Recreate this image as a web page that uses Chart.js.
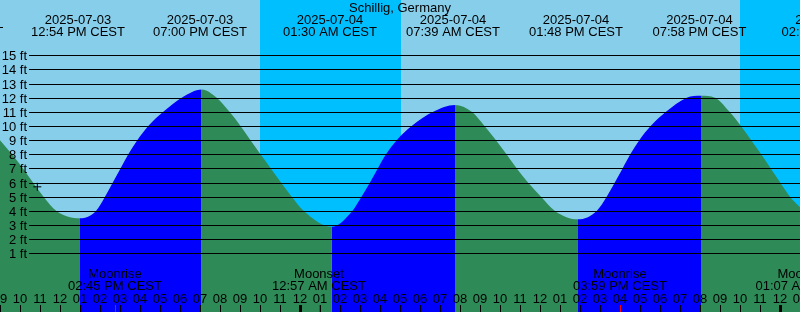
<!DOCTYPE html>
<html>
<head>
<meta charset="utf-8">
<script src="https://cdn.jsdelivr.net/npm/chart.js@4/dist/chart.umd.min.js"></script>
<style>
  body { margin: 0; background: #87CEEB; }
  canvas { display: block; }
</style>
</head>
<body>
<canvas id="tide_chart" width="800" height="312"></canvas>
<script>
// hours after 09:00 AM 2025-07-03, water level in feet
const tideHours = [0, 0.6, 1.15, 1.65, 2.175, 2.825, 4.0,
    4.8, 5.25, 5.64, 6.025, 6.415, 6.865, 7.415, 8.165, 9.085, 10.085,
    10.835, 11.475, 12.025, 12.525, 13.025, 13.54, 14.05, 14.585, 15.19, 16.585,
    17.615, 18.075, 18.5, 18.89, 19.3, 19.835, 20.585, 21.665, 22.75,
    23.585, 24.225, 24.8, 25.325, 25.84, 26.4, 27.05, 27.75, 28.9,
    29.835, 30.335, 30.74, 31.13, 31.515, 31.965, 32.535, 33.3, 34.335, 35.05,
    35.75, 36.475, 37.05, 37.56, 38.06, 38.535, 39.01, 39.5, 40.0];
const tideFeet = [9.0, 8.0, 7.0, 6.0, 5.0, 4.0, 3.47,
    4.0, 5.0, 6.0, 7.0, 8.0, 9.0, 10.0, 11.0, 12.0, 12.59,
    12.0, 11.0, 10.0, 9.0, 8.0, 7.0, 6.0, 5.0, 4.0, 2.88,
    4.0, 5.0, 6.0, 7.0, 8.0, 9.0, 10.0, 11.0, 11.48,
    11.0, 10.0, 9.0, 8.0, 7.0, 6.0, 5.0, 4.0, 3.40,
    4.0, 5.0, 6.0, 7.0, 8.0, 9.0, 10.0, 11.0, 12.0, 12.14,
    12.0, 11.0, 10.0, 9.0, 8.0, 7.0, 6.0, 5.0, 4.25];

const eventHours = [3.9, 10.0, 16.5, 22.65, 28.8, 34.97, 41.42];
const eventDates = ['2025-07-03', '2025-07-03', '2025-07-04', '2025-07-04', '2025-07-04', '2025-07-04', '2025-07-05'];
const eventTimes = ['12:54 PM CEST', '07:00 PM CEST', '01:30 AM CEST', '07:39 AM CEST', '01:48 PM CEST', '07:58 PM CEST', '02:25 AM CEST'];

const moonHours = [5.75, 15.95, 31.0, 40.12];
const moonNames = ['Moonrise', 'Moonset', 'Moonrise', 'Moonset'];
const moonTimes = ['02:45 PM CEST', '12:57 AM CEST', '03:59 PM CEST', '01:07 AM CEST'];

const nightStart = [13.0, 37.0];
const nightEnd = [20.05, 41.0];

const footTicks = [1, 2, 3, 4, 5, 6, 7, 8, 9, 10, 11, 12, 13, 14, 15];
const hourLabels = ['09', '10', '11', '12', '01', '02', '03', '04', '05', '06', '07', '08',
    '09', '10', '11', '12', '01', '02', '03', '04', '05', '06', '07', '08',
    '09', '10', '11', '12', '01', '02', '03', '04', '05', '06', '07', '08',
    '09', '10', '11', '12', '01'];
const midnightHours = [15, 39];

const nowHour = 1.865;
const nowFeet = 5.7;

const FONT = '13px "Liberation Sans", Arial, sans-serif';
const DAY = '#87CEEB';
const NIGHT = '#00BFFF';

const tidePoints = tideHours.map(function(h, i){ return {x: h, y: tideFeet[i]}; });

const backdrop = {
    id: 'backdrop',
    beforeDraw: function(chart){
        const ctx = chart.ctx;
        const xs = chart.scales.x;
        ctx.save();
        ctx.fillStyle = DAY;
        ctx.fillRect(0, 0, chart.width, chart.height);
        ctx.fillStyle = NIGHT;
        for (let i = 0; i < nightStart.length; i++) {
            const a = Math.round(xs.getPixelForValue(nightStart[i]));
            const b = Math.round(xs.getPixelForValue(nightEnd[i]));
            ctx.fillRect(a, 0, b - a, chart.height);
        }
        ctx.restore();
    }
};

const overlay = {
    id: 'overlay',
    afterDatasetsDraw: function(chart){
        const ctx = chart.ctx;
        const xs = chart.scales.x;
        const ys = chart.scales.y;
        ctx.save();
        ctx.fillStyle = '#000';
        ctx.font = FONT;

        // foot lines and labels
        ctx.textAlign = 'right';
        ctx.textBaseline = 'middle';
        footTicks.forEach(function(ft){
            const y = Math.round(ys.getPixelForValue(ft));
            ctx.fillRect(29, y, chart.width - 29, 1);
            ctx.fillText(ft + ' ft', 27, y + 1);
        });
        ctx.fillRect(0, Math.round(ys.getPixelForValue(17)), 3, 1);

        // header
        ctx.textAlign = 'center';
        ctx.textBaseline = 'alphabetic';
        ctx.fillText('Schillig, Germany', 400, 12);
        eventHours.forEach(function(h, i){
            const x = xs.getPixelForValue(h);
            ctx.fillText(eventDates[i], x, 24);
            ctx.fillText(eventTimes[i], x, 36);
        });

        // moon events
        moonHours.forEach(function(h, i){
            const x = xs.getPixelForValue(h);
            ctx.fillText(moonNames[i], x, 277.5);
            ctx.fillText(moonTimes[i], x, 290);
        });

        // hour ticks
        hourLabels.forEach(function(lbl, h){
            const x = Math.round(xs.getPixelForValue(h));
            ctx.fillText(lbl, x, 302.5);
            if (midnightHours.indexOf(h) >= 0) {
                ctx.fillRect(x - 1, 305, 3, 7);
            } else {
                ctx.fillRect(x, 305, 1, 7);
            }
        });
        ctx.fillStyle = '#FF0000';
        moonHours.forEach(function(h){
            const x = Math.round(xs.getPixelForValue(h));
            ctx.fillRect(x, 305, 1, 7);
        });
        ctx.restore();
    }
};

const chart = new Chart(document.getElementById('tide_chart'), {
    type: 'line',
    data: {
        datasets: [{
            label: 'now',
            type: 'scatter',
            data: [{x: nowHour, y: nowFeet}],
            pointStyle: 'cross',
            pointRadius: 4,
            borderColor: '#000',
            borderWidth: 1,
            order: 0
        }, {
            label: 'tide',
            data: tidePoints,
            fill: 'start',
            borderWidth: 0,
            pointRadius: 0,
            cubicInterpolationMode: 'monotone',
            backgroundColor: '#2E8B57',
            segment: {
                backgroundColor: function(c){
                    return c.p1.parsed.y > c.p0.parsed.y ? '#0000FF' : '#2E8B57';
                }
            },
            order: 1
        }]
    },
    options: {
        responsive: false,
        animation: false,
        devicePixelRatio: 1,
        layout: { padding: 0, autoPadding: false },
        scales: {
            x: { type: 'linear', min: 0, max: 40, display: false },
            y: { min: -3.15, max: 18.91, display: false }
        },
        plugins: {
            legend: { display: false },
            tooltip: { enabled: false }
        }
    },
    plugins: [backdrop, overlay]
});
</script>
</body>
</html>
